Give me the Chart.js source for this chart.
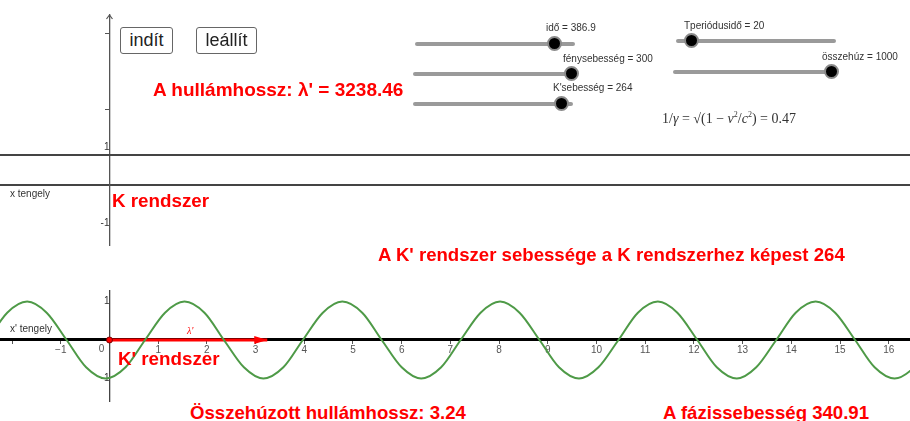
<!DOCTYPE html>
<html lang="hu">
<head>
<meta charset="utf-8">
<script src="https://cdn.jsdelivr.net/npm/chart.js@4.4.1/dist/chart.umd.min.js"></script>
<style>
  body { margin: 0; background: #fff; width: 910px; height: 421px; overflow: hidden; position: relative; font-family: "Liberation Sans", Arial, sans-serif; }
  .doboz { position: absolute; }
  .piros { position: absolute; color: #ff0000; font-weight: bold; font-size: 18.8px; line-height: 19px; white-space: nowrap; }
  .kicsi { position: absolute; color: #333; font-size: 10px; line-height: 10px; white-space: nowrap; }
  .gomb { position: absolute; top: 27px; height: 25px; border: 1px solid #666; border-radius: 3px; font-size: 18px; line-height: 24px; text-align: center; color: #222; background: #fff; }
  .csuszka { position: absolute; height: 4px; background: #9a9a9a; border-radius: 2px; }
  .gombocska { position: absolute; width: 11px; height: 11px; border-radius: 50%; background: #000; border: 2px solid #8a8a8a; }
  .keplet { position: absolute; left: 662px; top: 110px; font-family: "Liberation Serif", "DejaVu Serif", serif; font-size: 14px; color: #333; white-space: nowrap; }
  .keplet sup { font-size: 8px; }
</style>
</head>
<body>

<div class="doboz" style="left:0;top:14px;width:910px;height:232px;"><canvas id="felso"></canvas></div>
<div class="doboz" style="left:0;top:290px;width:910px;height:112px;"><canvas id="also"></canvas></div>

<div class="gomb" style="left:120px;width:51px;">indít</div>
<div class="gomb" style="left:196px;width:59px;">leállít</div>

<!-- csúszkák -->
<div class="csuszka" style="left:415px;top:42px;width:160px;"></div>
<div class="gombocska" style="left:547px;top:36px;"></div>
<div class="kicsi" style="left:546px;top:23px;">idő = 386.9</div>

<div class="csuszka" style="left:413px;top:72px;width:164px;"></div>
<div class="gombocska" style="left:564px;top:66px;"></div>
<div class="kicsi" style="left:563px;top:54px;">fénysebesség = 300</div>

<div class="csuszka" style="left:413px;top:102px;width:160px;"></div>
<div class="gombocska" style="left:554px;top:96px;"></div>
<div class="kicsi" style="left:553px;top:83px;">K'sebesség = 264</div>

<div class="csuszka" style="left:676px;top:39px;width:160px;"></div>
<div class="gombocska" style="left:684px;top:33px;"></div>
<div class="kicsi" style="left:684px;top:21px;">Tperiódusidő = 20</div>

<div class="csuszka" style="left:673px;top:70px;width:160px;"></div>
<div class="gombocska" style="left:824px;top:64px;"></div>
<div class="kicsi" style="left:822px;top:52px;">összehúz = 1000</div>

<div class="keplet">1/<i>γ</i> = √(1 − <i>v</i><sup>2</sup>/<i>c</i><sup>2</sup>) = 0.47</div>

<div class="piros" style="left:153px;top:80px;font-size:19px;">A hullámhossz: λ' = 3238.46</div>
<div class="piros" style="left:112px;top:191px;">K rendszer</div>
<div class="piros" style="left:378px;top:245px;font-size:18.6px;">A K' rendszer sebessége a K rendszerhez képest 264</div>
<div class="piros" style="left:118px;top:349px;">K' rendszer</div>
<div class="piros" style="left:190px;top:403px;font-size:18.6px;">Összehúzott hullámhossz: 3.24</div>
<div class="piros" style="left:663px;top:403px;font-size:18.6px;">A fázissebesség 340.91</div>

<div class="kicsi" style="left:10px;top:189px;">x tengely</div>
<div class="kicsi" style="left:10px;top:324px;">x' tengely</div>
<div class="kicsi" style="left:187px;top:326px;color:#ff0000;font-style:italic;font-family:'Liberation Serif',serif;">λ'</div>

<script>
// x tartomány (mindkét koordináta-rendszer)
const xMin = -2.248;
const xMax = 16.437;

// K' rendszer hullám (leolvasott pontok)
const hullamX = [-2.50, -2.10, -1.69, -1.29, -0.88, -0.48, -0.08, 0.33, 0.73, 1.14, 1.54, 1.95,
  2.35, 2.76, 3.16, 3.57, 3.97, 4.38, 4.78, 5.19, 5.59, 6.00, 6.40, 6.81, 7.21, 7.62, 8.02, 8.42,
  8.83, 9.23, 9.64, 10.04, 10.45, 10.85, 11.26, 11.66, 12.07, 12.47, 12.88, 13.28, 13.69, 14.09,
  14.50, 14.90, 15.31, 15.71, 16.12, 16.52, 16.92];
const hullamY = [0, 0.71, 1, 0.71, 0, -0.71, -1, -0.71, 0, 0.71, 1, 0.71,
  0, -0.71, -1, -0.71, 0, 0.71, 1, 0.71, 0, -0.71, -1, -0.71, 0, 0.71, 1, 0.71,
  0, -0.71, -1, -0.71, 0, 0.71, 1, 0.71, 0, -0.71, -1, -0.71, 0, 0.71,
  1, 0.71, 0, -0.71, -1, -0.71, 0];

// λ' vektor
const vektorX = [0, 3.24];
const vektorY = [0, 0];

// K rendszer vízszintes vonala
const kVonalX = [-2.25, 16.44];
const kVonalY = [0.79, 0.79];

// tengely osztások
const felsoTickek = [-1, 1, 2, 4];
const felsoCimkek = [-1, 1];
const alsoYTickek = [-1, 1];

function pontok(xs, ys) {
  return xs.map((x, i) => ({ x: x, y: ys[i] }));
}

// a középre tett tengelyek ne szűkítsék a rajzterületet
function nullaPadding(s) {
  s.paddingLeft = 0;
  s.paddingRight = 0;
  s.paddingTop = 0;
  s.paddingBottom = 0;
}

// felső tengely nyila
const nyilPlugin = {
  id: 'nyil',
  afterDraw(chart) {
    const ctx = chart.ctx;
    const x = chart.scales.x.getPixelForValue(0);
    const y = chart.chartArea.top + 1;
    ctx.save();
    ctx.strokeStyle = '#555';
    ctx.lineWidth = 1.2;
    ctx.beginPath();
    ctx.moveTo(x - 3, y + 4);
    ctx.lineTo(x, y);
    ctx.lineTo(x + 3, y + 4);
    ctx.stroke();
    ctx.restore();
  }
};

// vektor hegye és a "0" felirat
const vektorPlugin = {
  id: 'vektor',
  afterDatasetsDraw(chart) {
    const ctx = chart.ctx;
    const sx = chart.scales.x, sy = chart.scales.y;
    const vx = sx.getPixelForValue(vektorX[1]);
    const vy = sy.getPixelForValue(vektorY[1]);
    ctx.save();
    ctx.fillStyle = '#ff0000';
    ctx.beginPath();
    ctx.moveTo(vx, vy);
    ctx.lineTo(vx - 13, vy - 4);
    ctx.lineTo(vx - 13, vy + 4);
    ctx.closePath();
    ctx.fill();
    ctx.fillStyle = '#555';
    ctx.font = '10px "Liberation Sans", Arial, sans-serif';
    ctx.textAlign = 'center';
    ctx.textBaseline = 'top';
    ctx.fillText('0', sx.getPixelForValue(0) - 8, sy.getPixelForValue(0) + 4);
    ctx.restore();
  }
};

const alapX = {
  type: 'linear',
  min: xMin,
  max: xMax,
  position: { y: 0 },
  afterFit: nullaPadding
};

// K rendszer
new Chart(document.getElementById('felso'), {
  type: 'line',
  data: {
    datasets: [{
      data: pontok(kVonalX, kVonalY),
      borderColor: '#444',
      borderWidth: 2,
      pointRadius: 0
    }]
  },
  options: {
    responsive: true,
    maintainAspectRatio: false,
    animation: false,
    layout: { padding: 0, autoPadding: false },
    plugins: { legend: { display: false }, tooltip: { enabled: false } },
    scales: {
      x: Object.assign({}, alapX, {
        grid: { display: false },
        border: { display: true, color: '#444', width: 2 },
        ticks: { display: false }
      }),
      y: {
        type: 'linear',
        min: -1.605,
        max: 4.5,
        position: { x: 0 },
        afterFit: nullaPadding,
        afterBuildTicks: s => { s.ticks = felsoTickek.map(v => ({ value: v })); },
        grid: {
          drawOnChartArea: false,
          tickLength: 4,
          color: c => felsoCimkek.includes(c.tick.value) ? 'rgba(0,0,0,0)' : '#555'
        },
        border: { display: true, color: '#555', width: 1.3 },
        ticks: {
          padding: 6,
          color: '#333',
          font: { size: 10, family: '"Liberation Sans", Arial, sans-serif' },
          callback: v => felsoCimkek.includes(v) ? String(v) : ''
        }
      }
    }
  },
  plugins: [nyilPlugin]
});

// K' rendszer
new Chart(document.getElementById('also'), {
  type: 'line',
  data: {
    datasets: [{
      data: pontok(hullamX, hullamY),
      borderColor: '#4e9a47',
      borderWidth: 2,
      pointRadius: 0,
      cubicInterpolationMode: 'monotone'
    }, {
      data: pontok(vektorX, vektorY),
      borderColor: '#ff0000',
      borderWidth: 3,
      pointRadius: [3, 0],
      pointBackgroundColor: '#ff0000',
      pointBorderColor: '#7a0000',
      pointBorderWidth: 1
    }]
  },
  options: {
    responsive: true,
    maintainAspectRatio: false,
    animation: false,
    layout: { padding: 0, autoPadding: false },
    plugins: { legend: { display: false }, tooltip: { enabled: false } },
    scales: {
      x: Object.assign({}, alapX, {
        grid: { drawOnChartArea: false, tickLength: 3, color: '#555' },
        border: { display: true, color: '#000', width: 3 },
        ticks: {
          stepSize: 1,
          includeBounds: false,
          autoSkip: false,
          maxRotation: 0,
          padding: 1,
          color: '#555',
          font: { size: 10, family: '"Liberation Sans", Arial, sans-serif' },
          callback: v => (v === 0 || v < -1) ? '' : (v < 0 ? '−' + Math.abs(v) : String(v))
        }
      }),
      y: {
        type: 'linear',
        min: -1.6104,
        max: 1.2987,
        position: { x: 0 },
        afterFit: nullaPadding,
        afterBuildTicks: s => { s.ticks = alsoYTickek.map(v => ({ value: v })); },
        grid: { display: false },
        border: { display: true, color: '#444', width: 1.3 },
        ticks: {
          padding: 9,
          color: '#333',
          font: { size: 10, family: '"Liberation Sans", Arial, sans-serif' },
          callback: v => String(v)
        }
      }
    }
  },
  plugins: [vektorPlugin]
});
</script>
</body>
</html>
